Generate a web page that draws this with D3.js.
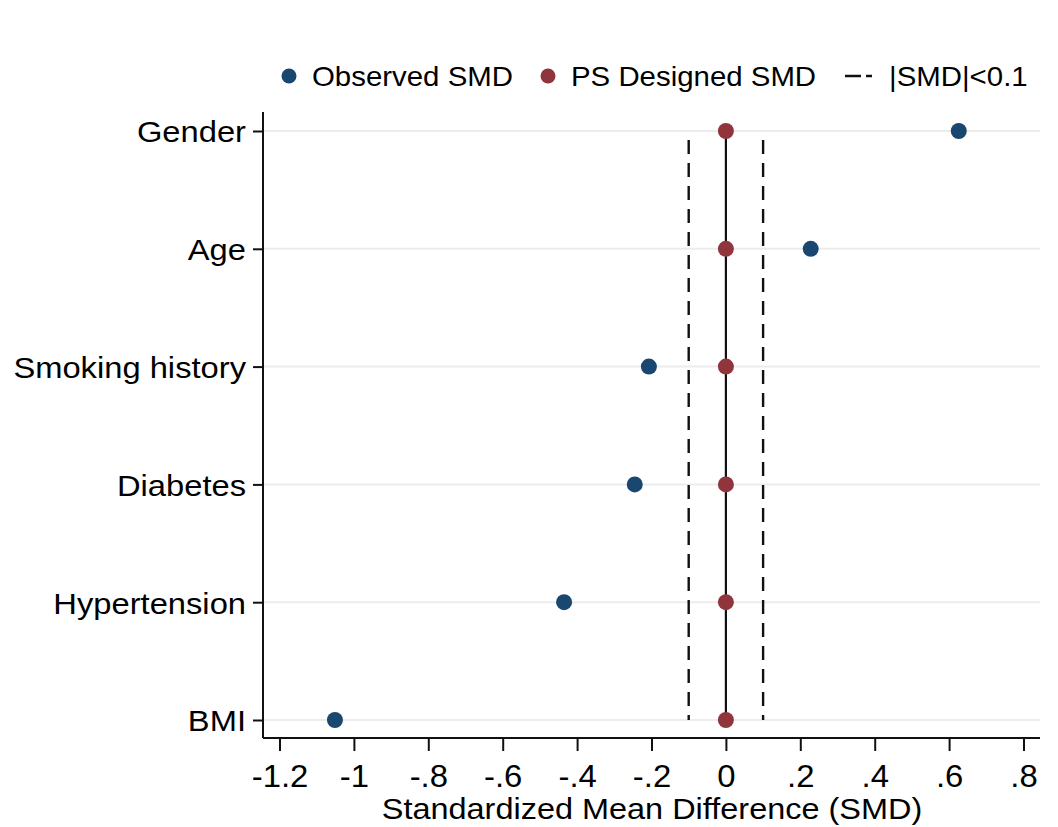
<!DOCTYPE html>
<html>
<head>
<meta charset="utf-8">
<script src="https://cdn.jsdelivr.net/npm/d3@7"></script>
<style>
  html, body { margin: 0; padding: 0; background: #fff; }
  svg { display: block; font-family: "Liberation Sans", Arial, sans-serif; }
</style>
</head>
<body>
<svg id="chart" width="1058" height="827"></svg>
<script>
// Covariates, top to bottom
const covariates = ["Gender", "Age", "Smoking history", "Diabetes", "Hypertension", "BMI"];
// Standardized mean differences before matching
const observedSMD = [0.626, 0.228, -0.207, -0.245, -0.435, -1.051];
// Standardized mean differences after propensity-score design
const designedSMD = [0, 0, 0, 0, 0, 0];
// x-axis ticks and their labels
const xTicks = [-1.2, -1, -0.8, -0.6, -0.4, -0.2, 0, 0.2, 0.4, 0.6, 0.8];
const xTickLabels = ["-1.2", "-1", "-.8", "-.6", "-.4", "-.2", "0", ".2", ".4", ".6", ".8"];
const threshold = 0.1;

const seriesNames = ["Observed SMD", "PS Designed SMD", "|SMD|<0.1"];
const blue = "#1a476f", red = "#90353b";
const font = "'Liberation Sans', Arial, sans-serif";

// Stretch text horizontally by a factor (the graph's type is slightly wide)
function widen(sel, factor) {
  sel.each(function () {
    const w = this.getComputedTextLength();
    d3.select(this)
      .attr("textLength", w * factor)
      .attr("lengthAdjust", "spacingAndGlyphs");
  });
}

const svg = d3.select("#chart");
const plot = { left: 263, right: 1040, top: 112, bottom: 738 };

const x = d3.scaleLinear()
  .domain([-1.2, 0.8])
  .range([279.5, 1023.5]);

const y = d3.scalePoint()
  .domain(covariates)
  .range([131, 720]);

// horizontal grid lines at each covariate
svg.append("g")
  .selectAll("line")
  .data(covariates)
  .join("line")
  .attr("x1", plot.left).attr("x2", plot.right)
  .attr("y1", d => y(d)).attr("y2", d => y(d))
  .attr("stroke", "#ececec").attr("stroke-width", 2);

// reference lines: zero and +/- threshold
svg.append("line")
  .attr("x1", x(0)).attr("x2", x(0))
  .attr("y1", y(covariates[0])).attr("y2", y(covariates[covariates.length - 1]))
  .attr("stroke", "#111").attr("stroke-width", 2.2);

[-threshold, threshold].forEach(t => {
  svg.append("line")
    .attr("x1", x(t)).attr("x2", x(t))
    .attr("y1", 140).attr("y2", y(covariates[covariates.length - 1]))
    .attr("stroke", "#111").attr("stroke-width", 2.4)
    .attr("stroke-dasharray", "14,9");
});

// points
const r = 8;
svg.append("g")
  .selectAll("circle")
  .data(covariates)
  .join("circle")
  .attr("cx", (d, i) => x(designedSMD[i]))
  .attr("cy", d => y(d))
  .attr("r", r)
  .attr("fill", red);

svg.append("g")
  .selectAll("circle")
  .data(covariates)
  .join("circle")
  .attr("cx", (d, i) => x(observedSMD[i]))
  .attr("cy", d => y(d))
  .attr("r", r)
  .attr("fill", blue);

// x axis
const xAxis = d3.axisBottom(x)
  .tickValues(xTicks)
  .tickFormat((d, i) => xTickLabels[i])
  .tickSize(13)
  .tickPadding(14);

const gx = svg.append("g")
  .attr("transform", `translate(0,${plot.bottom})`)
  .call(xAxis);
gx.select(".domain").remove();
gx.append("line")
  .attr("x1", plot.left).attr("x2", plot.right)
  .attr("y1", 0).attr("y2", 0)
  .attr("stroke", "#111").attr("stroke-width", 2);
gx.selectAll(".tick line").attr("stroke", "#111").attr("stroke-width", 2);
gx.selectAll(".tick text")
  .attr("fill", "#000")
  .style("font-size", "30.7px")
  .style("font-family", font)
  .call(widen, 1.07);

// y axis
const yAxis = d3.axisLeft(y).tickSize(10).tickPadding(7);
const gy = svg.append("g")
  .attr("transform", `translate(${plot.left},0)`)
  .call(yAxis);
gy.select(".domain").remove();
gy.append("line")
  .attr("x1", 0).attr("x2", 0)
  .attr("y1", plot.top).attr("y2", plot.bottom)
  .attr("stroke", "#111").attr("stroke-width", 2);
gy.selectAll(".tick line").attr("stroke", "#111").attr("stroke-width", 2);
gy.selectAll(".tick text")
  .attr("fill", "#000")
  .attr("dy", "0.36em")
  .style("font-size", "30px")
  .style("font-family", font)
  .call(widen, 1.09);

// axis title
svg.append("text")
  .attr("x", 652)
  .attr("y", 819)
  .attr("text-anchor", "middle")
  .style("font-size", "29.5px")
  .attr("fill", "#000")
  .text("Standardized Mean Difference (SMD)")
  .call(widen, 1.10);

// legend
const lg = svg.append("g").attr("transform", "translate(0,76)");
lg.append("circle").attr("cx", 289).attr("cy", 0).attr("r", 7.5).attr("fill", blue);
lg.append("circle").attr("cx", 548).attr("cy", 0).attr("r", 7.5).attr("fill", red);
lg.append("line").attr("x1", 845).attr("x2", 872).attr("y1", 0).attr("y2", 0)
  .attr("stroke", "#111").attr("stroke-width", 2.4).attr("stroke-dasharray", "16,5");
lg.selectAll("text.legend-label")
  .data([[312, seriesNames[0]], [571, seriesNames[1]], [889, seriesNames[2]]])
  .join("text")
  .attr("class", "legend-label")
  .attr("x", d => d[0]).attr("y", 9.5)
  .style("font-size", "28px")
  .text(d => d[1])
  .call(widen, 1.05);
</script>
</body>
</html>
